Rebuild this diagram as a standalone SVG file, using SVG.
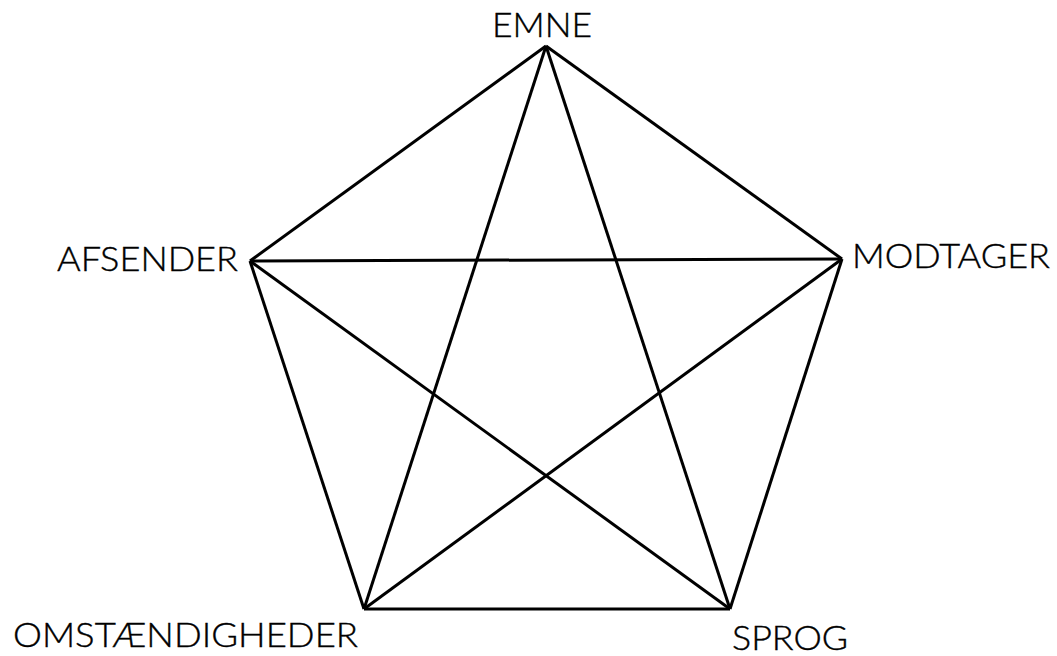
<svg xmlns="http://www.w3.org/2000/svg" width="1057" height="656" viewBox="0 0 1057 656">
<style>
.lbl{font-family:Lato,"Open Sans",sans-serif;font-weight:300;font-size:34px;fill:#000;stroke:#000;stroke-width:0.4}
.edge{stroke:#000;stroke-width:3;fill:none;stroke-linejoin:miter}
</style>
<rect width="1057" height="656" fill="#fff"/>
<g id="connectors">
<line class="edge" x1="546" y1="46" x2="842" y2="259"/>
<line class="edge" x1="842" y1="259" x2="730" y2="609"/>
<line class="edge" x1="730" y1="609" x2="364" y2="609"/>
<line class="edge" x1="364" y1="609" x2="250" y2="261"/>
<line class="edge" x1="250" y1="261" x2="546" y2="46"/>
<line class="edge" x1="546" y1="46" x2="364" y2="609"/>
<line class="edge" x1="546" y1="46" x2="730" y2="609"/>
<line class="edge" x1="250" y1="261" x2="842" y2="259"/>
<line class="edge" x1="250" y1="261" x2="730" y2="609"/>
<line class="edge" x1="842" y1="259" x2="364" y2="609"/>
</g>
<g id="emne"><text class="lbl" x="492" y="37" textLength="100" lengthAdjust="spacingAndGlyphs">EMNE</text></g>
<g id="afsender"><text class="lbl" x="57" y="271" textLength="181" lengthAdjust="spacingAndGlyphs">AFSENDER</text></g>
<g id="modtager"><text class="lbl" x="852" y="268" textLength="198" lengthAdjust="spacingAndGlyphs">MODTAGER</text></g>
<g id="omstaendigheder"><text class="lbl" x="13" y="647" textLength="345" lengthAdjust="spacingAndGlyphs">OMSTÆNDIGHEDER</text></g>
<g id="sprog"><text class="lbl" x="732" y="650" font-size="33" textLength="116" lengthAdjust="spacingAndGlyphs">SPROG</text></g>
</svg>
